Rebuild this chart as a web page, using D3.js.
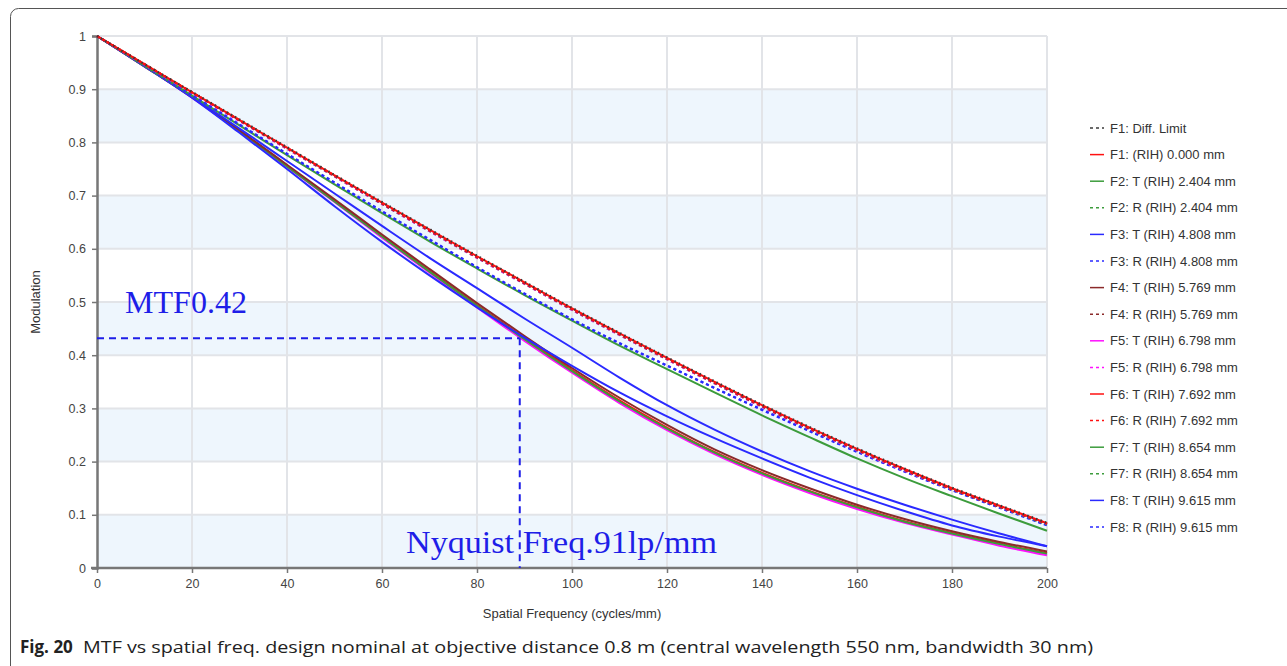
<!DOCTYPE html>
<head>
<meta charset="utf-8">
<script src="https://cdnjs.cloudflare.com/ajax/libs/d3/7.9.0/d3.min.js"></script>
<style>
  body { margin: 0; background: #fff; }
</style>
</head>
<body>
<div id="chart"></div>
</body>
<script>

// spatial frequency samples (cycles/mm)
const freq = [0, 10, 20, 30, 40, 50, 60, 70, 80, 90, 100, 110, 120, 130, 140, 150, 160, 170, 180, 190, 200]

// modulation, one array per legend entry
const diffLimit = [1, .947, .895, .843, .791, .739, .688, .637, .587, .538, .489, .442, .396, .351, .307, .265, .225, .187, .151, .118, .085]
const f1 = [1, .947, .894, .842, .790, .738, .687, .636, .586, .537, .488, .441, .395, .350, .306, .264, .224, .186, .150, .117, .084]
const f2T = [1, .944, .888, .832, .776, .721, .667, .614, .563, .513, .465, .418, .374, .330, .287, .246, .206, .169, .135, .102, .070]
const f2R = [1, .947, .894, .842, .789, .737, .685, .634, .584, .535, .486, .439, .393, .348, .304, .262, .222, .184, .148, .115, .082]
const f3T = [1, .944, .886, .826, .765, .704, .643, .583, .526, .469, .414, .358, .306, .260, .219, .182, .149, .119, .091, .065, .041]
const f3R = [1, .945, .889, .834, .779, .725, .671, .618, .566, .516, .468, .423, .381, .339, .298, .258, .219, .182, .147, .114, .081]
const f4T = [1, .944, .886, .823, .758, .693, .627, .562, .498, .436, .376, .320, .269, .223, .184, .150, .119, .092, .069, .049, .031]
const f4R = [1, .947, .894, .841, .789, .737, .685, .634, .584, .535, .486, .439, .393, .348, .304, .262, .222, .184, .148, .115, .083]
const f5T = [1, .943, .884, .820, .754, .688, .621, .555, .490, .427, .367, .310, .259, .214, .175, .141, .111, .085, .063, .042, .024]
const f5R = [1, .946, .893, .840, .788, .736, .684, .633, .583, .534, .485, .438, .392, .347, .303, .261, .221, .183, .148, .115, .083]
const f6T = [1, .943, .885, .822, .756, .690, .624, .558, .494, .432, .372, .315, .264, .218, .179, .145, .115, .088, .066, .046, .028]
const f6R = [1, .947, .894, .842, .790, .738, .686, .635, .585, .536, .487, .440, .394, .349, .305, .263, .223, .185, .149, .116, .084]
const f7T = [1, .943, .885, .821, .755, .689, .623, .557, .493, .430, .370, .313, .262, .217, .178, .144, .114, .087, .065, .045, .027]
const f7R = [1, .946, .893, .841, .788, .736, .684, .633, .583, .534, .485, .438, .392, .347, .303, .261, .221, .183, .148, .115, .082]
const f8T = [1, .943, .884, .818, .750, .680, .613, .550, .490, .433, .380, .330, .285, .244, .206, .170, .137, .107, .080, .059, .041]
const f8R = [1, .945, .889, .833, .778, .724, .670, .617, .565, .515, .467, .422, .380, .338, .297, .257, .218, .181, .146, .113, .080]

const legendLabels = [
  "F1: Diff. Limit", "F1: (RIH) 0.000 mm",
  "F2: T (RIH) 2.404 mm", "F2: R (RIH) 2.404 mm",
  "F3: T (RIH) 4.808 mm", "F3: R (RIH) 4.808 mm",
  "F4: T (RIH) 5.769 mm", "F4: R (RIH) 5.769 mm",
  "F5: T (RIH) 6.798 mm", "F5: R (RIH) 6.798 mm",
  "F6: T (RIH) 7.692 mm", "F6: R (RIH) 7.692 mm",
  "F7: T (RIH) 8.654 mm", "F7: R (RIH) 8.654 mm",
  "F8: T (RIH) 9.615 mm", "F8: R (RIH) 9.615 mm"
]
const seriesValues = [diffLimit, f1, f2T, f2R, f3T, f3R, f4T, f4R, f5T, f5R, f6T, f6R, f7T, f7R, f8T, f8R]

const xTicks = [0, 20, 40, 60, 80, 100, 120, 140, 160, 180, 200]
const yTicks = [0, 0.1, 0.2, 0.3, 0.4, 0.5, 0.6, 0.7, 0.8, 0.9, 1]

// annotation values
const nyquist = 89
const mtfAtNyquist = 0.432

// line styles, same order as the legend
const styles = [
  {color: "#3a3a3a", dash: "1.5,3.2", w: 2.2},
  {color: "#ff1010", dash: null, w: 2},
  {color: "#3c9c3c", dash: null, w: 2},
  {color: "#3c9c3c", dash: "3,3", w: 2},
  {color: "#2a2aff", dash: null, w: 2},
  {color: "#2a2aff", dash: "3,3", w: 2},
  {color: "#8b2a2a", dash: null, w: 2},
  {color: "#8b2a2a", dash: "3,3", w: 2},
  {color: "#ff10ff", dash: null, w: 2},
  {color: "#ff10ff", dash: "3,3", w: 2},
  {color: "#ff1010", dash: null, w: 2},
  {color: "#ff1010", dash: "3,3", w: 2},
  {color: "#3c9c3c", dash: null, w: 2},
  {color: "#3c9c3c", dash: "3,3", w: 2},
  {color: "#2a2aff", dash: null, w: 2},
  {color: "#2a2aff", dash: "3,3", w: 2}
]

const sans = "'Liberation Sans', Arial, sans-serif"
const serif = "'Liberation Serif', 'Times New Roman', serif"

const W = 1287, H = 666
const svg = d3.select("#chart").append("svg")
  .attr("width", W).attr("height", H)
  .style("font-family", sans)

// figure frame
svg.append("rect")
  .attr("x", 10.5).attr("y", 8.5)
  .attr("width", 1300).attr("height", 680)
  .attr("rx", 8)
  .attr("fill", "none").attr("stroke", "#555").attr("stroke-width", 1)

const x = d3.scaleLinear().domain([0, 200]).range([97, 1047])
const y = d3.scaleLinear().domain([0, 1]).range([568, 36])

// alternating bands
const bands = yTicks.slice(0, -1).filter((d, i) => i % 2 === 0)
svg.append("g").selectAll("rect")
  .data(bands)
  .join("rect")
  .attr("x", x(0)).attr("width", x(200) - x(0))
  .attr("y", d => y(d + 0.1)).attr("height", d => y(d) - y(d + 0.1))
  .attr("fill", "#eef6fd")

// grid
const grid = svg.append("g").attr("stroke", "#e2e4e8").attr("stroke-width", 2)
grid.selectAll(".gx").data(xTicks.slice(1)).join("line")
  .attr("x1", d => x(d)).attr("x2", d => x(d))
  .attr("y1", y(0)).attr("y2", y(1))
grid.selectAll(".gy").data(yTicks.slice(1)).join("line")
  .attr("x1", x(0)).attr("x2", x(200))
  .attr("y1", d => y(d)).attr("y2", d => y(d))

// axes
const xAxis = svg.append("g")
  .attr("transform", `translate(0,${y(0)})`)
  .call(d3.axisBottom(x).tickValues(xTicks).tickSize(5).tickPadding(6).tickFormat(d3.format("d")))
const yAxis = svg.append("g")
  .attr("transform", `translate(${x(0)},0)`)
  .call(d3.axisLeft(y).tickValues(yTicks).tickSize(5).tickPadding(6).tickFormat(d => d === 0 || d === 1 ? d : d3.format(".1f")(d)))
;[xAxis, yAxis].forEach(a => {
  a.select(".domain").attr("stroke", "#777").attr("stroke-width", 2.5)
  a.selectAll(".tick line").attr("stroke", "#777").attr("stroke-width", 1.5)
  a.selectAll(".tick text").attr("fill", "#444").style("font-size", "12.5px")
    .style("font-family", sans)
})
xAxis.select(".domain").attr("d", `M${x(0) - 6},0H${x(200)}`)

svg.append("text")
  .attr("x", x(100)).attr("y", 618)
  .attr("text-anchor", "middle").style("font-size", "13px").attr("fill", "#333")
  .text("Spatial Frequency (cycles/mm)")
svg.append("text")
  .attr("transform", `translate(40,${y(0.5)}) rotate(-90)`)
  .attr("text-anchor", "middle").style("font-size", "13px").attr("fill", "#333")
  .text("Modulation")

// curves, lower ones first, diffraction limit on top
const line = d3.line()
  .x((d, i) => x(freq[i]))
  .y(d => y(d))
  .curve(d3.curveMonotoneX)

const drawOrder = [8, 10, 12, 6, 14, 4, 2, 15, 5, 13, 3, 9, 7, 11, 1, 0]
svg.append("g").attr("fill", "none")
  .selectAll("path")
  .data(drawOrder)
  .join("path")
  .attr("d", i => line(seriesValues[i]))
  .attr("stroke", i => styles[i].color)
  .attr("stroke-width", i => styles[i].w)
  .attr("stroke-dasharray", i => styles[i].dash)

// Nyquist annotation
const ann = svg.append("g").attr("stroke", "#1e1ee8").attr("stroke-width", 2).attr("stroke-dasharray", "7,5")
ann.append("line")
  .attr("x1", x(0)).attr("x2", x(nyquist))
  .attr("y1", y(mtfAtNyquist)).attr("y2", y(mtfAtNyquist))
ann.append("line")
  .attr("x1", x(nyquist)).attr("x2", x(nyquist))
  .attr("y1", y(mtfAtNyquist)).attr("y2", y(0))

svg.append("text")
  .attr("x", 125).attr("y", 313)
  .style("font-family", serif)
  .style("font-size", "31px").attr("fill", "#1e1ee8")
  .attr("textLength", 122).attr("lengthAdjust", "spacingAndGlyphs")
  .text("MTF0.42")
svg.append("text")
  .attr("x", 406).attr("y", 553)
  .style("font-family", serif)
  .style("font-size", "31px").attr("fill", "#1e1ee8")
  .style("white-space", "pre")
  .attr("textLength", 311).attr("lengthAdjust", "spacingAndGlyphs")
  .text("Nyquist Freq.91lp/mm")

// legend
const legend = svg.append("g")
  .selectAll("g")
  .data(legendLabels)
  .join("g")
  .attr("transform", (d, i) => `translate(1090,${128 + i * 26.6})`)
legend.append("line")
  .attr("x1", 0).attr("x2", 14)
  .attr("stroke", (d, i) => styles[i].color)
  .attr("stroke-width", 1.5)
  .attr("stroke-dasharray", (d, i) => styles[i].dash ? "3,3" : null)
legend.append("text")
  .attr("x", 20).attr("dy", "0.35em")
  .style("font-size", "13px").attr("fill", "#333")
  .text(d => d)

// caption
svg.append("text")
  .attr("x", 20).attr("y", 653)
  .style("font-family", "'Open Sans', sans-serif")
  .style("font-size", "17px").style("font-weight", "bold").attr("fill", "#222")
  .text("Fig. 20")
svg.append("text")
  .attr("x", 83).attr("y", 653)
  .style("font-family", "'Open Sans', sans-serif")
  .style("font-size", "17px").attr("fill", "#222")
  .attr("textLength", 1010).attr("lengthAdjust", "spacingAndGlyphs")
  .text("MTF vs spatial freq. design nominal at objective distance 0.8 m (central wavelength 550 nm, bandwidth 30 nm)")

</script>
